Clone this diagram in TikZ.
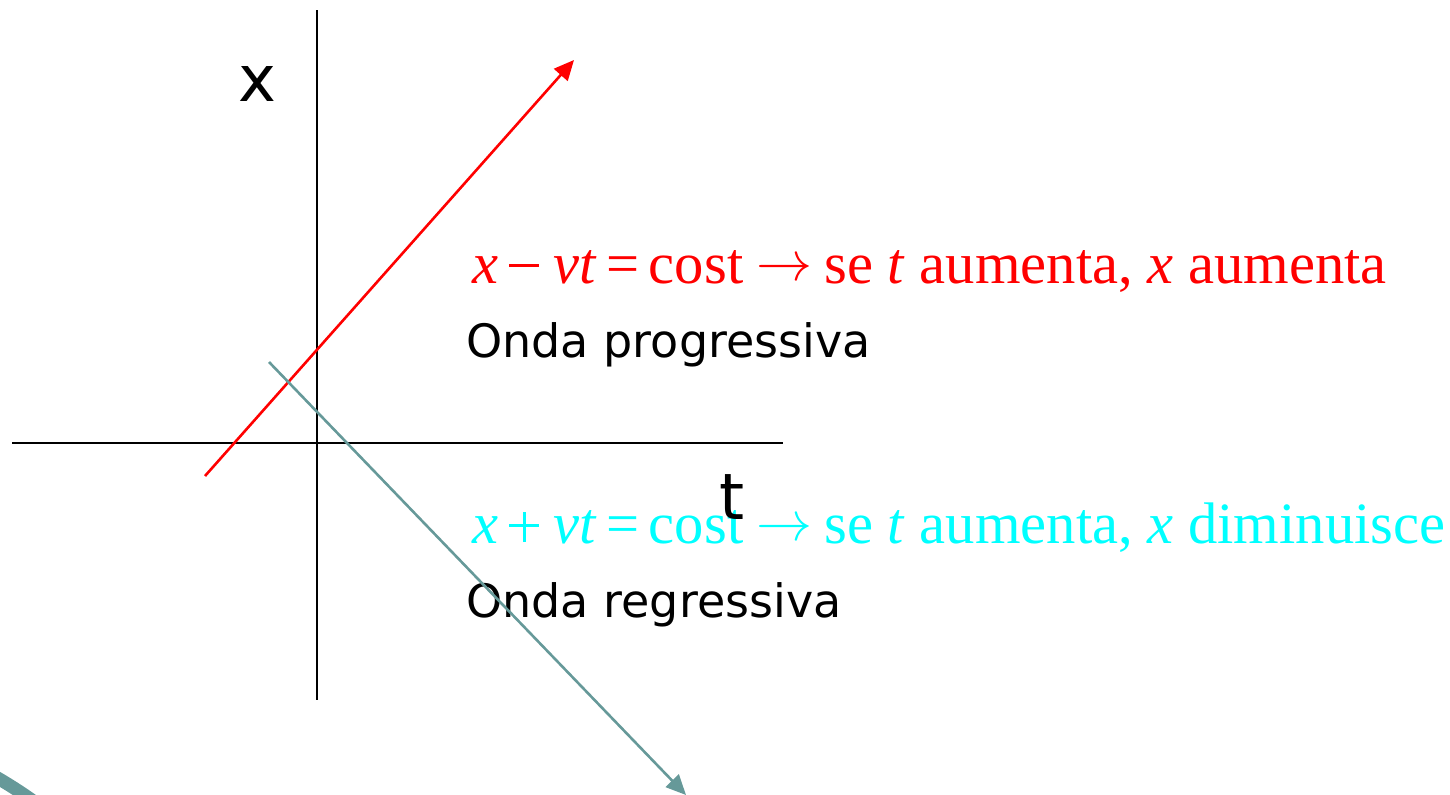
\documentclass[tikz,border=0pt]{standalone}
\usepackage{fontspec}
\setmainfont{Liberation Serif}
\newfontfamily\labfont{DejaVu Sans}
\usetikzlibrary{arrows.meta}
\definecolor{tealgray}{HTML}{669999}
\definecolor{cyanc}{HTML}{00FFFF}
\newcommand{\mminus}{\hspace{5.5pt}\raisebox{8pt}{\rule{15pt}{1.7pt}}\hspace{7pt}}
\newcommand{\mplus}{\hspace{5.5pt}\raisebox{0.5pt}{\makebox[15pt]{\rule[7.3pt]{15pt}{1.7pt}\hspace{-15pt}\hspace{6.65pt}\rule{1.7pt}{15pt}\hspace{6.65pt}}}\hspace{7pt}}
\newcommand{\meq}{\hspace{5pt}=\hspace{4.5pt}}
\newcommand{\marr}{\hspace{6.5pt}\raisebox{1.5pt}{\resizebox{28pt}{!}{$\rightarrow$}}\hspace{6pt}}
\tikzset{
  axis/.style={line width=1.3pt, black},
  redarrow/.style={line width=1.3pt, red, -{Triangle[length=10pt,width=9pt]}},
  tealarrow/.style={line width=1.3pt, tealgray, -{Triangle[length=10pt,width=9pt]}},
  eq/.style={anchor=base west, inner sep=0pt, font=\fontsize{29.3}{32}\selectfont},
  lab/.style={anchor=base west, inner sep=0pt, font=\labfont\fontsize{23}{26}\selectfont},
  axlab/.style={anchor=base, inner sep=0pt, font=\labfont\fontsize{32}{34}\selectfont}
}
\begin{document}
\begin{tikzpicture}[x=0.5pt,y=-0.5pt]
\useasboundingbox (0,0) rectangle (1450,794);
% decorative arc
\draw[tealgray, line width=6.5pt] (-20,768) .. controls (0,779) and (20,791) .. (40,806);
% axes
\coordinate (vtop) at (317,10);
\coordinate (vbot) at (317,700);
\coordinate (hl) at (12,443);
\coordinate (hr) at (783,443);
\draw[axis] (vtop) -- (vbot);
\draw[axis] (hl) -- (hr);
% lines
\coordinate (rs) at (205,476);
\coordinate (re) at (574,60);
\coordinate (ts) at (269,362);
\coordinate (te) at (686,795);
\draw[redarrow] (rs) -- (re);
% texts
\node[axlab] (xlab) at (257,101) {x};
\node[eq, text=red] (eq1) at (472,283) {\textit{x}\mminus\textit{vt}\meq cost\marr se \textit{t} aumenta, \textit{x} aumenta};
\node[lab] (prog) at (466,357) {Onda progressiva};
\node[eq, text=cyanc] (eq2) at (472,543) {\textit{x}\mplus\textit{vt}\meq cost\marr se \textit{t} aumenta, \textit{x} diminuisce};
\node[axlab] (tlab) at (732,519) {t};
\node[lab] (regr) at (466,617) {Onda regressiva};
\draw[tealarrow] (ts) -- (te);
\end{tikzpicture}
\end{document}
